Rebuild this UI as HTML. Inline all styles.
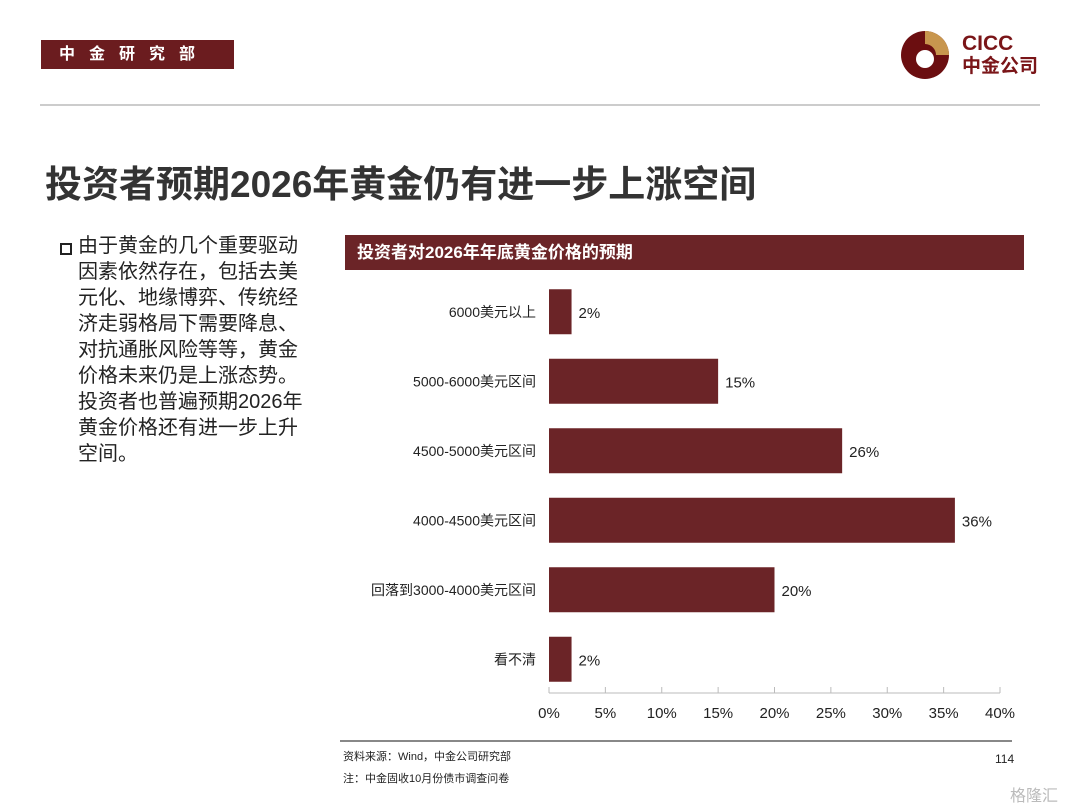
<!DOCTYPE html>
<html><head><meta charset="utf-8">
<style>
body{margin:0;width:1080px;height:810px;background:#fff;position:relative;overflow:hidden;font-family:"Liberation Sans","Noto Sans CJK SC",sans-serif;}
.abs{position:absolute;}
</style></head><body>
<div class="abs" style="left:41px;top:40px;width:193px;height:29px;background:#6b1c1f;color:#fff;font-size:16px;font-weight:bold;line-height:29px;letter-spacing:14px;text-indent:18px;">中金研究部</div>
<svg class="abs" style="left:900px;top:28px" width="50" height="55" viewBox="0 0 50 55">
<circle cx="25" cy="27" r="24" fill="#6b0e10"/>
<path d="M25 3 A24 24 0 0 1 49 27 L36 27 A11 11 0 0 0 25 16Z" fill="#c8964e"/>
<circle cx="25" cy="31" r="9" fill="#fff"/>
</svg>
<div class="abs" style="left:962px;top:33px;color:#7a1518;font-weight:bold;font-size:21px;line-height:22px;">CICC<br><span style="font-size:19px">中金公司</span></div>
<div class="abs" style="left:40px;top:104px;width:1000px;height:2px;background:#ccc;"></div>
<div class="abs" style="left:45px;top:154px;font-size:37px;font-weight:bold;color:#333;white-space:nowrap;">投资者预期2026年黄金仍有进一步上涨空间</div>
<div class="abs" style="left:60px;top:243px;width:8px;height:8px;border:2px solid #222;"></div>
<div class="abs" style="left:78px;top:233px;width:236px;font-size:20px;line-height:26px;color:#222;">由于黄金的几个重要驱动因素依然存在，包括去美元化、地缘博弈、传统经济走弱格局下需要降息、对抗通胀风险等等，黄金价格未来仍是上涨态势。投资者也普遍预期2026年黄金价格还有进一步上升空间。</div>
<div class="abs" style="left:345px;top:235px;width:679px;height:35px;background:#6b2427;color:#fff;font-size:17px;font-weight:bold;line-height:35px;text-indent:12px;">投资者对2026年年底黄金价格的预期</div>
<svg class="abs" id="chart" style="left:0;top:0" width="1080" height="810"></svg>
<div class="abs" style="left:340px;top:740px;width:672px;height:2px;background:#888;"></div>
<div class="abs" style="left:343px;top:748px;font-size:11px;color:#222;">资料来源：Wind，中金公司研究部</div>
<div class="abs" style="left:343px;top:770px;font-size:11px;color:#222;">注：中金固收10月份债市调查问卷</div>
<div class="abs" style="left:995px;top:752px;font-size:12px;color:#222;">114</div>
<div class="abs" style="left:1010px;top:782px;font-size:16px;color:#bbb;">格隆汇</div>
<script>
const categories=["6000美元以上","5000-6000美元区间","4500-5000美元区间","4000-4500美元区间","回落到3000-4000美元区间","看不清"];
const values=[2,15,26,36,20,2];
const ticks=[0,5,10,15,20,25,30,35,40];
const svg=document.getElementById('chart');
const NS='http://www.w3.org/2000/svg';
const x0=549,x1=1000,top0=277,band=69.5,bh=45;
const xs=v=>x0+(x1-x0)*v/40;
const yc=i=>top0+band*(i+0.5);
function mk(t,a){const e=document.createElementNS(NS,t);for(const k in a)e.setAttribute(k,a[k]);svg.appendChild(e);return e;}
categories.forEach((c,i)=>{
 const r=mk('rect',{x:x0,y:yc(i)-bh/2,width:xs(values[i])-x0,height:bh,fill:'#6b2427'});
 
 
 const l=mk('text',{x:536,y:yc(i)+5,'text-anchor':'end','font-size':14,fill:'#222'});l.textContent=c;
 
 
 const v=mk('text',{x:xs(values[i])+7,y:yc(i)+6,'font-size':15,fill:'#222'});v.textContent=values[i]+'%';
 
 
});
const ax=mk('line',{x1:x0,x2:x1,y1:693,y2:693,stroke:'#bbb','stroke-width':1});


ticks.forEach(t=>{
 mk('line',{x1:xs(t),x2:xs(t),y1:687,y2:693,stroke:'#bbb'});
 const tx=mk('text',{x:xs(t),y:718,'text-anchor':'middle','font-size':15,fill:'#222'});tx.textContent=t+'%';
 
 
});
</script>
</body></html>
